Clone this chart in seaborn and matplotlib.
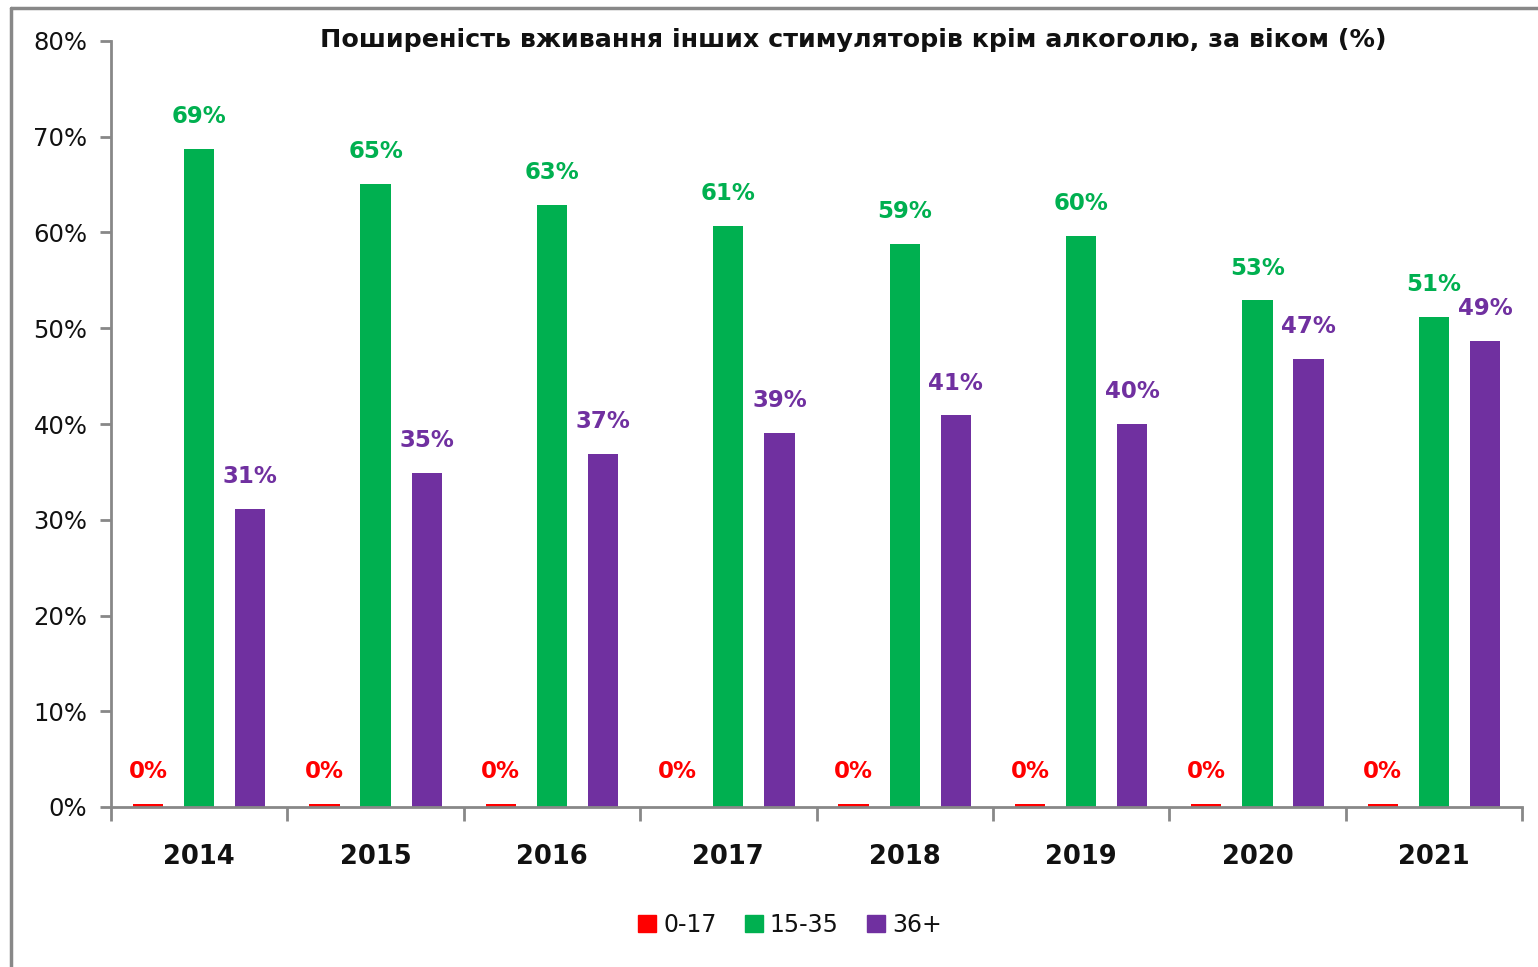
import matplotlib
matplotlib.use("Agg")
import matplotlib.pyplot as plt
from matplotlib.lines import Line2D
import seaborn as sns
import pandas as pd
import numpy as np

# Survey years and age groups
years = ["2014", "2015", "2016", "2017", "2018", "2019", "2020", "2021"]
age_groups = ["0-17", "15-35", "36+"]

# Prevalence (%) of stimulant use other than alcohol, by age group
share_0_17 = [0.35, 0.35, 0.35, 0.0, 0.35, 0.35, 0.35, 0.35]
share_15_35 = [68.7, 65.1, 62.9, 60.7, 58.8, 59.6, 52.9, 51.2]
share_36_plus = [31.1, 34.9, 36.9, 39.1, 40.9, 40.0, 46.8, 48.7]

colors = {"0-17": "#FF0000", "15-35": "#00B050", "36+": "#7030A0"}
title = "Поширеність вживання інших стимуляторів крім алкоголю, за віком (%)"

df = pd.DataFrame({
    "year": years * 3,
    "group": [age_groups[0]] * 8 + [age_groups[1]] * 8 + [age_groups[2]] * 8,
    "value": share_0_17 + share_15_35 + share_36_plus,
})

sns.set_theme(style="white")
plt.rcParams["font.family"] = ["DejaVu Sans"]

fig = plt.figure(figsize=(15.38, 9.67), dpi=100)
ax = fig.add_axes([111 / 1538, 1 - 807 / 967, (1522 - 111) / 1538, (807 - 41) / 967])

sns.barplot(data=df, x="year", y="value", hue="group", hue_order=age_groups,
            palette=colors, width=0.87, gap=0.41, saturation=1.0,
            errorbar=None, legend=False, linewidth=0, edgecolor="none", ax=ax)

# Value labels above each bar (tiny bars share a common baseline for their labels)
for group, cont in zip(age_groups, ax.containers):
    vals = df.loc[df["group"] == group, "value"].to_numpy()
    for patch, v in zip(cont.patches, vals):
        x = patch.get_x() + patch.get_width() / 2
        y = max(patch.get_height(), 0.35)
        ax.annotate(f"{v:.0f}%", (x, y), xytext=(0, 15), textcoords="offset points",
                    ha="center", va="bottom", color=colors[group],
                    fontsize=16.5, fontweight="bold")

ax.set_xlim(-0.5, 7.5)
ax.set_ylim(0, 80)
ax.set_yticks(np.arange(0, 81, 10))
ax.set_yticklabels([f"{t}%" for t in range(0, 81, 10)], fontsize=17.5, color="#111111")
ax.set_xticks(range(len(years)))
ax.set_xticklabels(years, fontsize=18.5, fontweight="bold", color="#111111")
ax.set_xticks(np.arange(-0.5, 8.0, 1.0), minor=True)
ax.tick_params(axis="x", which="major", length=0, pad=27)
ax.tick_params(axis="x", which="minor", length=10, width=2, color="#888888", direction="out", bottom=True)
ax.tick_params(axis="y", length=8, width=2, color="#888888", direction="out", left=True, pad=9)
ax.set_xlabel("")
ax.set_ylabel("")

for side in ("top", "right"):
    ax.spines[side].set_visible(False)
for side in ("left", "bottom"):
    ax.spines[side].set_color("#888888")
    ax.spines[side].set_linewidth(2)

fig.text(853 / 1538, 1 - 40 / 967, title, ha="center", va="center",
         fontsize=18.3, fontweight="bold", color="#111111")

# Legend with small square markers
handles = [plt.Rectangle((0, 0), 1, 1, color=colors[g]) for g in age_groups]
leg = fig.legend(handles, age_groups, loc="center", bbox_to_anchor=(790 / 1538, 1 - 925 / 967),
                 ncol=3, frameon=False, fontsize=17, handlelength=0.75, handleheight=0.75,
                 handletextpad=0.3, columnspacing=1.2)
for txt in leg.get_texts():
    txt.set_color("#111111")

# Outer chart frame (left and top edges)
fig.add_artist(Line2D([11 / 1538, 11 / 1538], [0, 1 - 8 / 967], transform=fig.transFigure,
                      color="#888888", linewidth=2.5))
fig.add_artist(Line2D([11 / 1538, 1], [1 - 8 / 967, 1 - 8 / 967], transform=fig.transFigure,
                      color="#888888", linewidth=2.5))

fig.savefig("out.png", dpi=100, facecolor="white")
